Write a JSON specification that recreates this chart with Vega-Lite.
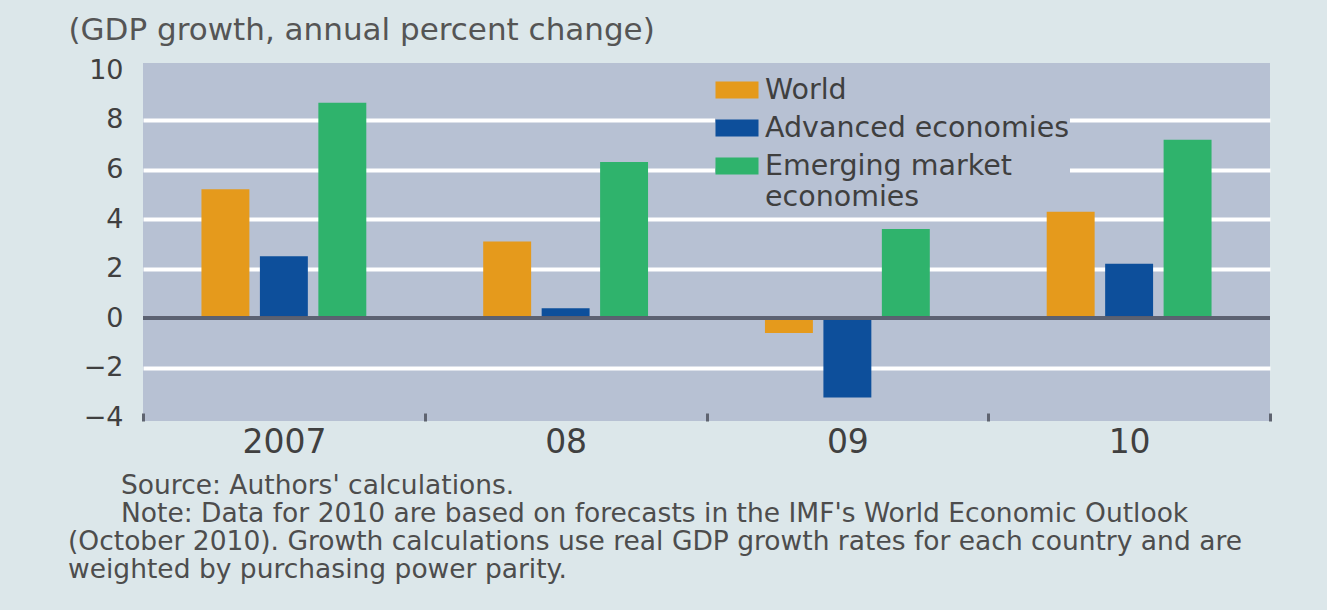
{
  "$schema": "https://vega.github.io/schema/vega-lite/v6.json",
  "width": 1127,
  "height": 358,
  "autosize": {"type": "none"},
  "padding": {"left": 143, "top": 63, "right": 57, "bottom": 189},
  "background": "#dce7ea",
  "config": {
    "view": {"fill": "#b7c1d3", "stroke": null},
    "font": "DejaVu Sans"
  },
  "title": {
    "text": [
      "\u200b\u2003\u2003Source: Authors' calculations.",
      "\u200b\u2003\u2003Note: Data for 2010 are based on forecasts in the IMF's World Economic Outlook",
      "(October 2010). Growth calculations use real GDP growth rates for each country and are",
      "weighted by purchasing power parity."
    ],
    "orient": "bottom",
    "anchor": "start",
    "frame": "group",
    "dx": -75,
    "offset": 14,
    "fontSize": 26.5,
    "fontWeight": "normal",
    "lineHeight": 28,
    "color": "#4d4d4d"
  },
  "data": {
    "values": [
      {"year": "2007", "series": "World", "value": 5.2},
      {"year": "2007", "series": "Advanced economies", "value": 2.5},
      {"year": "2007", "series": "Emerging market economies", "value": 8.7},
      {"year": "08", "series": "World", "value": 3.1},
      {"year": "08", "series": "Advanced economies", "value": 0.4},
      {"year": "08", "series": "Emerging market economies", "value": 6.3},
      {"year": "09", "series": "World", "value": -0.6},
      {"year": "09", "series": "Advanced economies", "value": -3.2},
      {"year": "09", "series": "Emerging market economies", "value": 3.6},
      {"year": "10", "series": "World", "value": 4.3},
      {"year": "10", "series": "Advanced economies", "value": 2.2},
      {"year": "10", "series": "Emerging market economies", "value": 7.2}
    ]
  },
  "layer": [
    {
      "mark": {"type": "bar"},
      "encoding": {
        "x": {
          "field": "year",
          "type": "nominal",
          "sort": null,
          "scale": {"paddingInner": 0, "paddingOuter": 0},
          "axis": {
            "title": null,
            "labelAngle": 0,
            "labelFontSize": 33,
            "labelColor": "#404040",
            "labelPadding": 13,
            "domain": false,
            "tickBand": "extent",
            "tickSize": -8,
            "tickWidth": 3,
            "tickColor": "#5f6470",
            "grid": false
          }
        },
        "xOffset": {
          "field": "series",
          "type": "nominal",
          "sort": ["World", "Advanced economies", "Emerging market economies"],
          "scale": {"paddingInner": 0.18, "paddingOuter": 1.15}
        },
        "y": {
          "field": "value",
          "type": "quantitative",
          "scale": {"domain": [-4.15, 10.3], "nice": false, "zero": false},
          "axis": {
            "values": [-4, -2, 0, 2, 4, 6, 8, 10],
            "labelExpr": "datum.value < 0 ? '\u2212' + abs(datum.value) : datum.label",
            "labelFontSize": 27,
            "labelColor": "#404040",
            "labelPadding": 20,
            "ticks": false,
            "domain": false,
            "grid": true,
            "gridColor": {"condition": {"test": "datum.value === 10 || datum.value === -4 || datum.value === 0", "value": "transparent"}, "value": "#ffffff"},
            "gridWidth": 4,
            "gridOpacity": 1,
            "title": "(GDP growth, annual percent change)",
            "titleAngle": 0,
            "titleAlign": "left",
            "titleBaseline": "middle",
            "titleX": -75,
            "titleY": -33,
            "titleFontSize": 31,
            "titleFontWeight": "normal",
            "titleColor": "#555555"
          }
        },
        "color": {
          "field": "series",
          "type": "nominal",
          "scale": {
            "domain": ["World", "Advanced economies", "Emerging market economies"],
            "range": ["#e59a1c", "#0d4f9b", "#2fb36c"]
          },
          "legend": {
            "title": null,
            "orient": "none",
            "legendX": 572,
            "legendY": 5,
            "fillColor": "#b7c1d3",
            "padding": 0,
            "symbolType": "M-1,-0.4H1V0.4H-1Z",
            "symbolSize": 1850,
            "symbolStrokeWidth": 0,
            "symbolOpacity": 1,
            "labelFontSize": 28.5,
            "labelColor": "#3f3f3f",
            "labelOffset": 6,
            "labelLimit": 600,
            "rowPadding": 1,
            "labelExpr": "datum.label === 'Emerging market economies' ? ['Emerging market', 'economies'] : datum.label"
          }
        }
      }
    },
    {
      "mark": {"type": "rule", "color": "#5b6272", "strokeWidth": 3},
      "encoding": {"y": {"datum": 0}}
    }
  ]
}
